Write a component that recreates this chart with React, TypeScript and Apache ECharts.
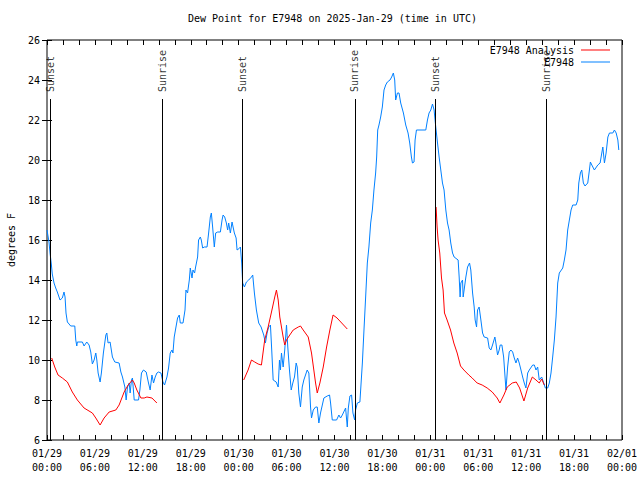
import React, { useEffect, useRef } from "react";
import * as echarts from "echarts";

// ---- data (hours since 2025-01-29 00:00 UTC, degrees F) ----
const stationHours = [
  0.0, 0.25, 0.38, 0.54, 0.66, 0.88, 1.09, 1.29, 1.63, 1.92, 2.13, 2.26, 2.38, 2.55, 2.97, 3.48, 3.6, 3.73, 3.8,
  4.43, 4.64, 4.98, 5.27, 5.48, 5.68, 5.9, 6.11, 6.24, 6.4, 6.65, 6.81, 7.06, 7.37, 7.49, 7.65, 7.9, 8.19, 8.49,
  9.03, 9.25, 9.45, 9.75, 9.91, 10.08, 10.29, 10.41, 10.58, 10.7, 10.92, 11.46, 11.63, 11.83, 12.08, 12.42, 12.71,
  12.92, 13.14, 13.34, 13.55, 13.76, 13.96, 14.27, 14.52, 14.72, 15.02, 15.22, 15.43, 15.65, 15.77, 15.93, 16.15,
  16.35, 16.56, 16.69, 17.03, 17.28, 17.4, 17.6, 17.82, 17.94, 18.16, 18.28, 18.48, 18.61, 18.86, 18.98, 19.2,
  19.32, 19.49, 19.7, 20.04, 20.24, 20.45, 20.58, 20.74, 20.95, 21.12, 21.37, 21.71, 21.92, 22.05, 22.25, 22.46,
  22.62, 22.75, 22.96, 23.17, 23.46, 23.68, 23.8, 24.13, 24.22, 24.38, 24.5, 24.72, 24.97, 25.26, 25.6, 25.76,
  25.97, 26.22, 26.51, 26.81, 27.14, 27.35, 27.56, 27.76, 27.98, 28.14, 28.32, 28.7, 28.95, 29.11, 29.23, 29.36,
  29.57, 29.77, 29.99, 30.15, 30.36, 30.58, 30.78, 30.99, 31.2, 31.33, 31.53, 31.74, 31.96, 32.16, 32.58, 32.79,
  33.0, 33.12, 33.34, 33.63, 33.84, 34.04, 34.25, 34.67, 35.09, 35.38, 35.51, 35.72, 36.26, 36.55, 36.76, 36.98,
  37.39, 37.6, 37.73, 37.93, 38.14, 38.31, 38.52, 38.64, 38.86, 39.18, 39.49, 39.69, 39.9, 40.11, 40.31, 40.53,
  40.74, 40.94, 41.15, 41.28, 41.41, 41.57, 41.78, 41.99, 42.2, 42.41, 42.62, 42.95, 43.16, 43.37, 43.54, 43.66,
  43.88, 44.08, 44.29, 44.63, 44.92, 45.21, 45.42, 45.63, 45.76, 45.96, 46.09, 46.26, 47.43, 47.64, 47.84, 48.06,
  48.27, 48.47, 48.68, 48.9, 49.1, 49.31, 49.52, 49.72, 49.94, 50.15, 50.35, 50.56, 50.78, 50.98, 51.48, 51.61,
  51.73, 51.82, 52.03, 52.11, 52.23, 52.45, 52.66, 52.91, 53.07, 53.29, 53.49, 53.61, 53.79, 53.91, 54.11, 54.33,
  54.54, 54.74, 55.17, 55.37, 55.58, 55.79, 56.08, 56.21, 56.42, 56.62, 56.75, 56.96, 57.18, 57.47, 57.68, 57.88,
  58.09, 58.31, 58.51, 58.72, 58.93, 59.13, 59.35, 59.56, 59.76, 59.97, 60.19, 60.39, 60.82, 61.02, 61.23, 61.44,
  61.64, 61.94, 62.2, 62.4, 62.7, 62.9, 63.11, 63.32, 63.53, 63.74, 63.95, 64.15, 64.58, 64.78, 64.99, 65.2, 65.41,
  65.62, 65.83, 66.25, 66.46, 66.59, 66.79, 66.96, 67.16, 67.37, 67.71, 67.92, 68.04, 68.22, 68.54, 68.97, 69.26,
  69.47, 69.6, 69.8, 70.01, 70.23, 70.43, 70.85, 71.05, 71.27, 71.48, 71.6,
];
const stationValues = [
  16.5, 15.9, 15.35, 14.8, 14.3, 13.85, 13.6, 13.4, 13.0, 13.1, 13.4, 13.15, 12.35, 11.9, 11.7, 11.7, 11.0, 10.7, 10.9,
  10.9, 10.7, 10.9, 10.75, 10.4, 9.8, 10.0, 10.35, 10.0, 9.35, 8.9, 9.35, 10.35, 11.25, 11.35, 10.85, 10.9, 10.15, 9.9,
  9.85, 9.4, 9.15, 8.65, 8.0, 8.65, 8.85, 8.35, 9.0, 9.1, 8.0, 8.0, 8.5, 9.35, 9.5, 9.4, 8.85,
  8.5, 9.25, 8.85, 9.15, 9.35, 9.4, 9.35, 8.9, 8.75, 9.15, 9.6, 10.35, 10.5, 10.35, 11.15, 11.65,
  12.1, 12.25, 11.85, 11.85, 12.5, 13.5, 13.35, 14.0, 14.6, 14.1, 14.5, 14.35, 14.65, 15.15, 16.0, 16.15,
  16.0, 15.6, 15.65, 15.65, 16.35, 17.15, 17.35, 16.65, 15.65, 16.35, 16.4, 16.4, 17.0, 17.25, 17.15, 16.85,
  16.5, 16.85, 16.35, 16.9, 16.35, 16.1, 15.5, 15.6, 15.65, 14.85, 13.85, 13.65, 13.9, 14.0, 14.15, 14.25,
  13.35, 12.5, 11.85, 11.65, 11.25, 10.85, 11.35, 11.65, 11.75, 10.5, 9.0, 8.9, 8.65, 10.0, 9.5, 10.35,
  9.65, 10.5, 11.75, 10.65, 9.5, 8.5, 8.85, 9.15, 9.85, 9.65, 8.35, 7.65, 8.65, 9.0, 9.5, 9.35,
  7.65, 7.1, 7.5, 7.65, 7.65, 6.85, 7.35, 8.1, 8.2, 8.25, 7.85, 7.0, 7.0, 7.25, 7.1, 7.25,
  7.6, 6.65, 7.6, 8.2, 8.25, 7.35, 7.0, 7.5, 7.85, 7.9, 9.85, 11.5, 13.15, 14.85, 15.65, 16.85,
  17.5, 18.5, 19.35, 20.15, 21.5, 21.75, 22.15, 22.65, 23.5, 23.75, 23.9, 24.0, 24.15, 24.35, 24.0, 23.0,
  23.35, 23.35, 22.85, 22.35, 21.75, 21.35, 20.85, 20.15, 19.85, 19.9, 21.0, 21.5, 21.5, 22.0, 22.35, 22.5,
  22.8, 22.5, 21.65, 20.85, 20.15, 19.5, 18.85, 18.5, 17.5, 16.85, 16.5, 15.85, 15.35, 15.15, 15.0, 14.15,
  13.15, 13.85, 14.0, 13.15, 13.5, 14.15, 14.65, 14.85, 14.5, 13.35, 12.65, 12.0, 11.65, 12.5, 12.65, 12.0,
  11.35, 11.15, 11.1, 10.6, 10.5, 10.75, 11.15, 10.85, 10.25, 10.5, 10.75, 10.75, 10.15, 8.5, 9.65, 10.4,
  10.5, 10.4, 10.1, 9.85, 10.1, 9.85, 9.5, 9.15, 8.85, 8.6, 9.35, 9.5, 9.75, 9.75, 9.5, 9.65,
  9.0, 9.15, 8.85, 8.6, 8.6, 8.85, 9.35, 10.15, 11.0, 12.15, 13.85, 14.35, 14.6, 15.0, 15.5, 16.5, 17.0,
  17.5, 17.75, 17.75, 18.0, 18.85, 19.35, 19.5, 18.85, 18.7, 18.85, 19.5, 19.9, 19.75, 19.5, 19.75, 19.85,
  20.35, 20.65, 19.85, 20.35, 21.15, 21.35, 21.35, 21.5, 21.35, 21.0, 20.5,
];

const analysisHours = [
  0.59, 0.97, 1.38, 1.92, 2.55, 3.17, 3.8, 4.64, 5.68, 6.11, 6.65, 7.15, 7.78, 8.62, 9.03, 9.66, 10.16, 10.7, 10.92,
  11.25, 11.76, 12.17, 12.51, 13.14, 13.76,
  19.0,
  24.63, 25.18, 25.6, 26.01, 26.44, 26.85, 27.26, 27.69, 28.11, 28.52, 28.73, 28.95, 29.15, 29.57, 29.77, 29.99,
  30.4, 30.83, 31.46, 31.74, 32.08, 32.71, 33.12, 33.41, 33.63, 33.84, 34.17, 34.59, 35.01, 35.42, 35.82, 36.32, 37.6,
  43.0,
  48.72, 48.85, 48.97, 49.18, 49.4, 49.6, 49.77, 50.1, 50.53, 50.94, 51.36, 51.78, 52.2, 52.82, 53.24, 53.86, 54.49,
  55.12, 55.75, 56.37, 56.71, 57.21, 57.63, 58.26, 58.76, 59.18, 59.72, 60.19, 60.77, 61.23, 61.64, 61.94, 62.27,
];
const analysisValues = [
  10.1, 9.65, 9.25, 9.1, 8.9, 8.4, 8.0, 7.6, 7.35, 7.1, 6.75, 7.1, 7.4, 7.5, 7.75, 8.4, 8.75, 9.0, 8.85,
  8.5, 8.1, 8.1, 8.15, 8.1, 7.85,
  null,
  9.0, 9.5, 10.0, 9.9, 9.8, 9.75, 11.0, 11.65, 12.4, 13.15, 13.5, 13.0, 12.15, 11.15, 10.75, 11.0,
  11.25, 11.5, 11.65, 11.7, 11.5, 11.15, 10.35, 9.5, 8.85, 8.35, 8.85, 9.65, 10.65, 11.5, 12.25, 12.1, 11.55,
  null,
  17.65, 16.65, 16.0, 15.35, 14.1, 13.5, 12.35, 12.0, 11.5, 10.85, 10.35, 9.7, 9.5, 9.25, 9.1, 8.85, 8.75,
  8.6, 8.4, 8.1, 7.85, 8.25, 8.65, 8.85, 8.9, 8.6, 7.95, 8.6, 9.15, 9.0, 8.85, 9.05, 8.75,
];

const sunEvents = ["Sunset", "Sunrise", "Sunset", "Sunrise", "Sunset", "Sunrise"];
const sunHours = [0.45, 14.45, 24.5, 38.55, 48.6, 62.5];
const sunLineTop = 23.05;

const xTickLabels = [
  "01/29\n00:00", "01/29\n06:00", "01/29\n12:00", "01/29\n18:00",
  "01/30\n00:00", "01/30\n06:00", "01/30\n12:00", "01/30\n18:00",
  "01/31\n00:00", "01/31\n06:00", "01/31\n12:00", "01/31\n18:00",
  "02/01\n00:00",
];

const FONT = "DejaVu Sans Mono";
const RED = "#ff0000";
const BLUE = "#0080ff";

export default function App() {
  const ref = useRef<HTMLDivElement>(null);
  useEffect(() => {
    if (!ref.current) return;
    const chart = echarts.init(ref.current, undefined, { renderer: "svg" });
    const stationData = stationHours.map((h, i) => [h, stationValues[i]]);
    const analysisData = analysisHours.map((h, i) => [h, analysisValues[i]]);
    const tickStyle = { show: true, inside: true, length: 5, lineStyle: { color: "#000", width: 1 } };
    chart.setOption({
      animation: false,
      backgroundColor: "#fff",
      textStyle: { fontFamily: FONT },
      title: {
        text: "Dew Point for E7948 on 2025-Jan-29 (time in UTC)",
        left: 188,
        top: 13,
        padding: 0,
        textStyle: { fontFamily: FONT, fontSize: 10, fontWeight: "normal", color: "#000" },
      },
      legend: {
        data: [
          { name: "E7948 Analysis", icon: "rect" },
          { name: "E7948", icon: "rect" },
        ],
        orient: "vertical",
        align: "right",
        right: 30,
        top: 44,
        padding: 0,
        itemWidth: 29,
        itemHeight: 1,
        itemGap: 0,
        textStyle: { fontFamily: FONT, fontSize: 10, color: "#000", lineHeight: 12, padding: [0, 2, 0, 0] },
      },
      grid: {
        left: 47,
        right: 18,
        top: 40,
        bottom: 40,
        show: true,
        borderColor: "#000",
        borderWidth: 1,
        backgroundColor: "transparent",
        containLabel: false,
        outerBoundsMode: "none",
      },
      xAxis: [
        {
          type: "value",
          min: 0,
          max: 72,
          interval: 2,
          position: "bottom",
          axisLine: { show: false },
          axisTick: tickStyle,
          splitLine: { show: false },
          axisLabel: {
            fontFamily: FONT,
            fontSize: 10,
            color: "#000",
            margin: 6,
            lineHeight: 14,
            showMinLabel: true,
            showMaxLabel: true,
            formatter: (v: number) => (v % 6 === 0 ? xTickLabels[v / 6] : ""),
          },
        },
        {
          type: "value",
          min: 0,
          max: 72,
          interval: 2,
          position: "top",
          axisLine: { show: false },
          axisTick: tickStyle,
          splitLine: { show: false },
          axisLabel: { show: false },
        },
      ],
      yAxis: [
        {
          type: "value",
          min: 6,
          max: 26,
          interval: 2,
          position: "left",
          name: "degrees F",
          nameLocation: "middle",
          nameGap: 31,
          nameTextStyle: { fontFamily: FONT, fontSize: 10, color: "#000" },
          axisLine: { show: false },
          axisTick: tickStyle,
          splitLine: { show: false },
          axisLabel: { fontFamily: FONT, fontSize: 10, color: "#000", margin: 7 },
        },
        {
          type: "value",
          min: 6,
          max: 26,
          interval: 2,
          position: "right",
          axisLine: { show: false },
          axisTick: tickStyle,
          splitLine: { show: false },
          axisLabel: { show: false },
        },
      ],
      series: [
        {
          name: "sun",
          type: "scatter",
          symbolSize: 0,
          silent: true,
          data: sunHours.map((h) => [h, sunLineTop]),
          label: {
            show: true,
            position: "top",
            distance: 7,
            rotate: 90,
            align: "left",
            verticalAlign: "middle",
            fontFamily: FONT,
            fontSize: 10,
            color: "#000",
            formatter: (p: any) => sunEvents[p.dataIndex],
          },
          markLine: {
            silent: true,
            symbol: "none",
            label: { show: false },
            lineStyle: { color: "#000", width: 1, type: "solid" },
            data: sunHours.map((h) => [{ coord: [h, 6] }, { coord: [h, sunLineTop] }]),
          },
          z: 1,
        },
        {
          name: "E7948 Analysis",
          type: "line",
          data: analysisData,
          symbol: "none",
          connectNulls: false,
          lineStyle: { color: RED, width: 1 },
          itemStyle: { color: RED },
          z: 3,
        },
        {
          name: "E7948",
          type: "line",
          data: stationData,
          symbol: "none",
          lineStyle: { color: BLUE, width: 1 },
          itemStyle: { color: BLUE },
          z: 2,
        },
      ],
    });
    return () => chart.dispose();
  }, []);
  return (
    <div
      ref={ref}
      style={{ position: "fixed", left: 0, top: 0, width: 640, height: 480, background: "#fff" }}
    />
  );
}
